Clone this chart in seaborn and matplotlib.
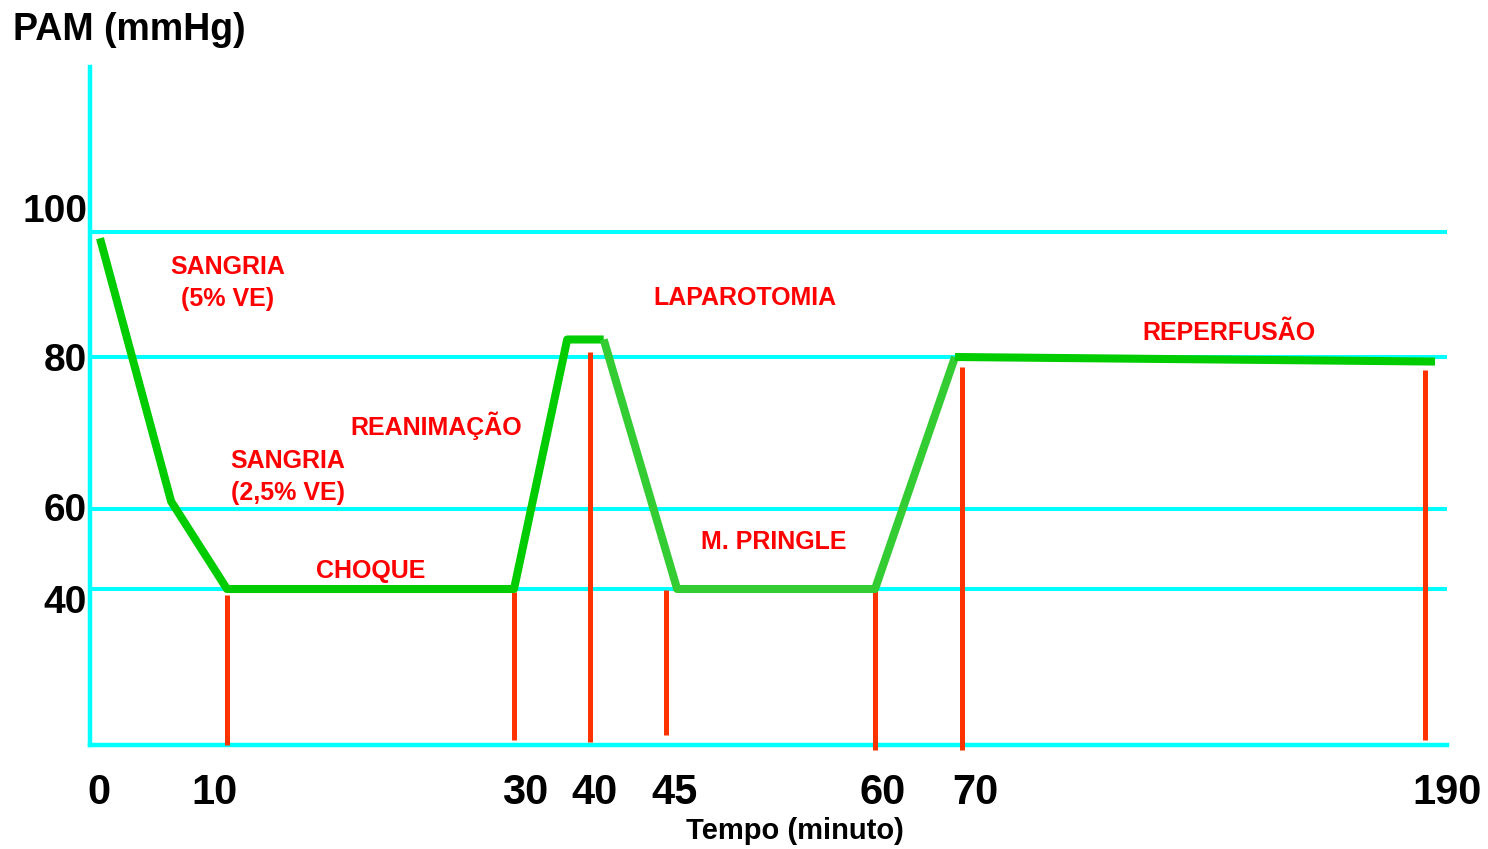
import numpy as np
import pandas as pd
import matplotlib
matplotlib.use("Agg")
import matplotlib.pyplot as plt
import seaborn as sns
from matplotlib.transforms import ScaledTranslation

# eixos: tempo (minuto) e PAM (mmHg)
tempo_ticks = [0, 10, 30, 40, 45, 60, 70, 190]
pam_ticks = [100, 80, 60, 40]

# curva da PAM em tres trechos (verde escuro / claro / escuro)
curva_tempo = [0, 5.6, 10, 30, 37, 40.9, 40.9, 45.8, 60, 69.2, 69.2, 192.6]
curva_pam = [99, 61, 40, 40, 82.8, 82.8, 82.8, 40, 40, 80, 80, 79.4]
curva_trecho = ["a"] * 6 + ["b"] * 4 + ["c"] * 2

# marcos verticais (vermelho)
marcos_tempo = [10, 30, 40, 45, 60, 70, 190]
marcos_topo = [38.5, 39.2, 80.8, 39.8, 40, 78.7, 78.3]
marcos_base = [1, 2.25, 1.75, 3.5, -0.25, -0.25, 2.25]

# nomes das fases
fases = ["SANGRIA\n(5% VE)", "SANGRIA\n(2,5% VE)", "REANIMAÇÃO", "CHOQUE",
         "LAPAROTOMIA", "M. PRINGLE", "REPERFUSÃO"]
fases_tempo = [10.05, 14.25, 24.6, 20, 50.7, 52.7, 139.2]
fases_pam = [91.8, 64.2, 70.9, 44.5, 89.4, 51.75, 83.8]

# escala do esquema (nao linear): valor -> posicao no desenho
x_nos = [-2, 0, 10, 30, 40, 45, 60, 70, 190, 200]
x_pos = [74.6, 100, 227, 514, 590, 666, 875, 962, 1425, 1463.6]
y_nos = [-10, 0, 40, 60, 80, 100, 140]
y_pos = [60, 100, 260, 340, 492, 617, 867]


def fx(v):
    return np.interp(v, x_nos, x_pos)


def fx_inv(p):
    return np.interp(p, x_pos, x_nos)


def fy(v):
    return np.interp(v, y_nos, y_pos)


def fy_inv(p):
    return np.interp(p, y_pos, y_nos)


sns.set_theme(style="white")
plt.rcParams["font.family"] = ["Liberation Sans", "DejaVu Sans"]
plt.rcParams["font.weight"] = "bold"

CIANO = "#00FFFF"
VERMELHO = "#FF3300"

fig = plt.figure(figsize=(14.88, 8.49), dpi=100)
ax = fig.add_axes([90 / 1488, 104 / 849, 1357 / 1488, 678 / 849])

for v in pam_ticks:
    ax.axhline(v, color=CIANO, lw=2.9, zorder=1)

ax.vlines(marcos_tempo, marcos_base, marcos_topo, color=VERMELHO, lw=3.6,
          zorder=3, clip_on=False)

df = pd.DataFrame({"tempo": curva_tempo, "pam": curva_pam, "trecho": curva_trecho})
sns.lineplot(data=df, x="tempo", y="pam", hue="trecho", sort=False, estimator=None,
             palette={"a": "#00CC00", "b": "#33CC33", "c": "#00CC00"},
             lw=5.8, legend=False, ax=ax, zorder=4, solid_capstyle="butt")

for txt, t, p in zip(fases, fases_tempo, fases_pam):
    ax.text(t, p, txt, color="#FF0000", fontsize=18, fontweight="bold",
            ha="center", va="center", multialignment="center", linespacing=1.4,
            zorder=5)

ax.set_xscale("function", functions=(fx, fx_inv))
ax.set_yscale("function", functions=(fy, fy_inv))
ax.set_xlim(float(fx_inv(90)), float(fx_inv(1447)))
ax.set_ylim(float(fy_inv(104)), float(fy_inv(782)))

ax.set_xticks(tempo_ticks)
ax.set_xticklabels([str(t) for t in tempo_ticks])
ax.set_yticks(pam_ticks)
ax.set_yticklabels([str(v) for v in pam_ticks])
ax.tick_params(axis="x", length=0, labelsize=30, pad=20, labelcolor="black")
ax.tick_params(axis="y", length=0, labelsize=28, pad=2, labelcolor="black")

# rotulos deslocados como no desenho original
for lbl, dx in zip(ax.get_xticklabels(), [-1, -12, 11, 5, 9, 8, 13, 22]):
    lbl.set_transform(lbl.get_transform() + ScaledTranslation(dx / 100, 0, fig.dpi_scale_trans))
for lbl, dy in zip(ax.get_yticklabels(), [24, 0, 2, -10]):
    lbl.set_transform(lbl.get_transform() + ScaledTranslation(0, dy / 100, fig.dpi_scale_trans))

for s in ["top", "right"]:
    ax.spines[s].set_visible(False)
for s in ["left", "bottom"]:
    ax.spines[s].set_color(CIANO)
    ax.spines[s].set_linewidth(3.2)

ax.set_xlabel("")
ax.set_ylabel("")
fig.text(13 / 1488, 1 - 30 / 849, "PAM (mmHg)", fontsize=27, fontweight="bold",
         ha="left", va="center", color="black")
fig.text(795 / 1488, 1 - 831 / 849, "Tempo (minuto)", fontsize=21, fontweight="bold",
         ha="center", va="center", color="black")

fig.savefig("out.png", dpi=100, facecolor="white")
